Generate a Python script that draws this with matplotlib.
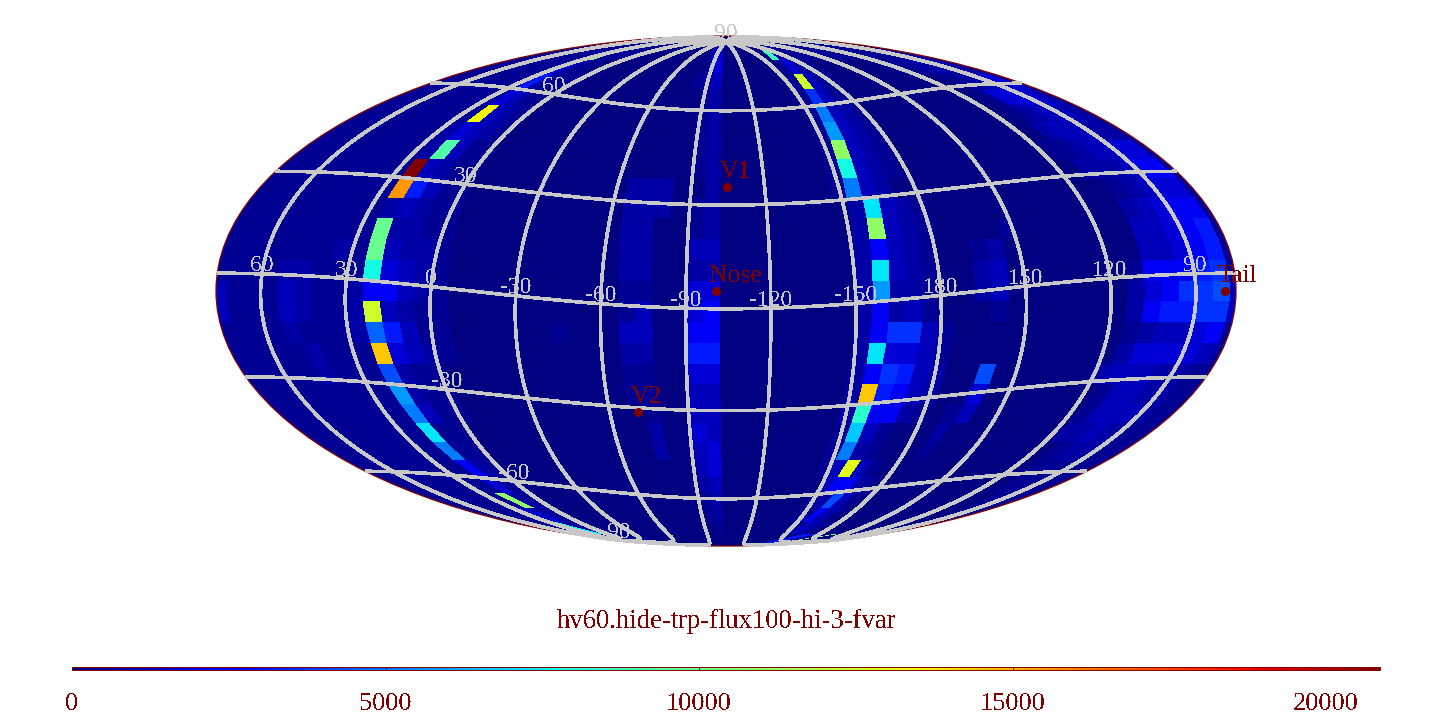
import numpy as np
import matplotlib
matplotlib.use('Agg')
import matplotlib.pyplot as plt

plt.rcParams['font.family'] = ['Liberation Serif', 'DejaVu Serif']
plt.rcParams['text.antialiased'] = False

# flux levels, one string per latitude row (north to south), 60 columns in groups of 10
# each character picks a value out of FLUX_VALUES
FLUX_CODES = '0123456789abcdefghijklmnopqrstuvwxyzABCDE'
FLUX_VALUES = [50, 400, 700, 1100, 1600, 2200] + [520 * i for i in range(6, 41)]
FLUX_MAX = 20860
FLUX_ROWS = [
    '0000000000 0000000000 0000000000 0000000000 0000000000 0000000000',
    '1111111111 1111111111 0000000022 0000000022 1111111111 1111111111',
    '1111111111 2l11111100 0000000034 0000000h32 1111111111 1111111122',
    '1111111112 4211000000 0000000014 0000000142 1100000000 1111222222',
    '1111111112 6211100000 0000000123 00000001o3 1100000000 0000112344',
    '1111111112 4311000000 0000000012 0000000173 1100000000 0000144443',
    '1111111111 q321000000 0000000012 00000001a3 2100000000 0000123332',
    '1111111112 4321000000 0000000012 00000001b3 2100000000 0000233322',
    '1111111112 i311000000 0000000012 00000001l3 2100000000 0001123344',
    '111111111E 3211000000 0000000012 00000001f3 2100000000 0000222355',
    '111111111u 6311000000 0000222002 00000001a3 2000000000 0000012344',
    '1111111112 3211000000 0000222012 000000002e 3210000000 0000023455',
    '111111111j 2211000000 0000220012 000000002l 3210000100 0000033456',
    '111111121j 3221000000 0000220033 0000000025 3210012000 0000033456',
    '111122111f 4321000000 0000220022 000000002e 3210023000 0000155567',
    '3111321125 5321000000 0000110044 000000002b 2210023000 0000245778',
    '311132112o 3211000000 0000130045 0000000025 2310001000 0000256677',
    '1111211129 6311000000 1000330055 0000000025 7731000000 0000123345',
    '111112111s 4321000000 0000220066 000000002e 4431000000 0000244443',
    '1111121118 2110000000 0000110044 0000000025 7632008000 0002333221',
    '111111111b 2110000000 0000110033 000000002s 6532004000 0000133221',
    '111111111a 3110000000 0000010033 000000002g 5521013000 0000133321',
    '111111111e 1100000000 0000020043 000000001d 3100020000 0000223211',
    '111111111a 1100000000 0000020034 000000001a 2100010000 0000012211',
    '1111111115 2100000000 0000000034 0000000013 p310000000 0000011111',
    '1111111114 1100000000 0000000023 0000000003 5521000000 0000001111',
    '11111111l2 1000000000 0000000012 0000000002 2831000000 0000000111',
    '1111111421 1000000000 0000000012 0000000001 1532000000 0000000011',
    '111111f211 0000000000 0000000001 0000000000 0133210000 0000000011',
    '1111123111 0000000000 0000000000 0000000000 0000006660 00k0000000',
    '0000000000 0000000000 0000000000 0000000000 0000000000 0000000000',
]
LAT_EDGES = [90, 87, 81, 75, 69, 63, 57, 51, 45, 39, 33, 27, 21, 15, 9, 3,
             -3, -9, -15, -21, -27, -33, -39, -45, -51, -57, -63, -69, -75, -81, -87, -90]
LON_START = -182.1
LON_STEP = 6

# graticule, centre of the map and tilt of it
CENTER_LON = -104.2
TILT = 5.1
MERIDIANS = [60, 30, 0, -30, -60, -90, -120, -150, 180, 150, 120, 90]
PARALLELS = [60, 30, 0, -30, -60]
LAT_LABELS = [90, 60, 30, -30, -60, -90]

# reference points in map coordinates
POINT_NAMES = ['Nose', 'Tail', 'V1', 'V2']
POINT_LON = [-3.5, 176.0, 0.4, -35.3]
POINT_LAT = [0.0, 0.0, 30.3, -35.5]

TITLE = 'hv60.hide-trp-flux100-hi-3-fvar'
CBAR_TICKS = [0, 5000, 10000, 15000, 20000]

GRAY = '#c8c8c8'
DARK = '#800000'
W, H = 1452, 728


def to_map(elon, elat):
    # graticule degrees to map radians, tilted about the map's centre
    lam = -np.radians(np.asarray(elon, dtype=float) - CENTER_LON)
    phi = np.radians(np.asarray(elat, dtype=float))
    t = np.radians(TILT)
    x = np.cos(phi) * np.cos(lam)
    y = np.cos(phi) * np.sin(lam)
    z = np.sin(phi)
    x2 = x * np.cos(t) + z * np.sin(t)
    z2 = z * np.cos(t) - x * np.sin(t)
    return np.arctan2(y, x2), np.arcsin(np.clip(z2, -1, 1))


def draw_line(ax, elon, elat):
    lon, lat = to_map(elon, elat)
    jumps = np.where(np.abs(np.diff(lon)) > np.pi)[0] + 1
    lon = np.insert(lon, jumps, np.nan)
    lat = np.insert(lat, jumps, np.nan)
    ax.plot(lon, lat, color=GRAY, lw=1.9, antialiased=False, clip_on=False,
            solid_capstyle='butt', zorder=3)


def label(ax, text, lon, lat):
    ax.annotate(text, (lon, lat), xytext=(0, 8), textcoords='offset pixels', color=GRAY,
                fontsize=17, ha='center', va='center', annotation_clip=False, zorder=4)


flux = np.array([[FLUX_VALUES[FLUX_CODES.index(c)] for c in row.replace(' ', '')] for row in FLUX_ROWS])
flux = np.c_[flux, flux[:, 0]]
lon_edges = np.radians(LON_START + LON_STEP * np.arange(flux.shape[1] + 1))
lat_edges = np.radians(LAT_EDGES)

fig = plt.figure(figsize=(W / 100, H / 100), dpi=100)
ax = fig.add_axes([216 / W, 1 - 546 / H, 1020 / W, 510 / H], projection='mollweide')
mesh = ax.pcolormesh(lon_edges, lat_edges, flux, cmap='jet', vmin=0, vmax=FLUX_MAX,
                     antialiased=False, linewidth=0)
ax.grid(False)
ax.set_xticklabels([])
ax.set_yticklabels([])
ax.spines['geo'].set_edgecolor(DARK)
ax.spines['geo'].set_linewidth(0.9)

for m in MERIDIANS:
    lats = np.linspace(-90, 90, 181)
    draw_line(ax, np.full_like(lats, m), lats)
    lon, lat = to_map(m, 0)
    label(ax, str(m), lon, lat)
for p in PARALLELS:
    lons = np.linspace(-180, 180, 361) + CENTER_LON
    draw_line(ax, lons, np.full_like(lons, p))
for p in LAT_LABELS:
    lon, lat = to_map(0, p)
    label(ax, str(abs(p)) if abs(p) == 90 else str(p), lon, lat)

lons = np.radians(POINT_LON)
lats = np.radians(POINT_LAT)
ax.scatter(lons, lats, s=42, color=DARK, linewidths=0, clip_on=False, zorder=5)
for name, lon, lat in zip(POINT_NAMES, lons, lats):
    ax.annotate(name, (lon, lat), xytext=(-7, 9), textcoords='offset pixels', color=DARK,
                fontsize=18.5, ha='left', va='baseline', annotation_clip=False, zorder=6)

fig.text(726 / W, 1 - 622 / H, TITLE, color=DARK, fontsize=19.2, ha='center', va='center')

cax = fig.add_axes([72 / W, 1 - 670 / H, 1308 / W, 3 / H])
cbar = fig.colorbar(mesh, cax=cax, orientation='horizontal', ticks=CBAR_TICKS)
cbar.outline.set_edgecolor(DARK)
cbar.outline.set_linewidth(0.7)
cbar.ax.tick_params(direction='in', length=2, width=0.7, color=DARK, labelcolor=DARK,
                    labelsize=19, pad=16.5)

fig.savefig('out.png', dpi=100)
